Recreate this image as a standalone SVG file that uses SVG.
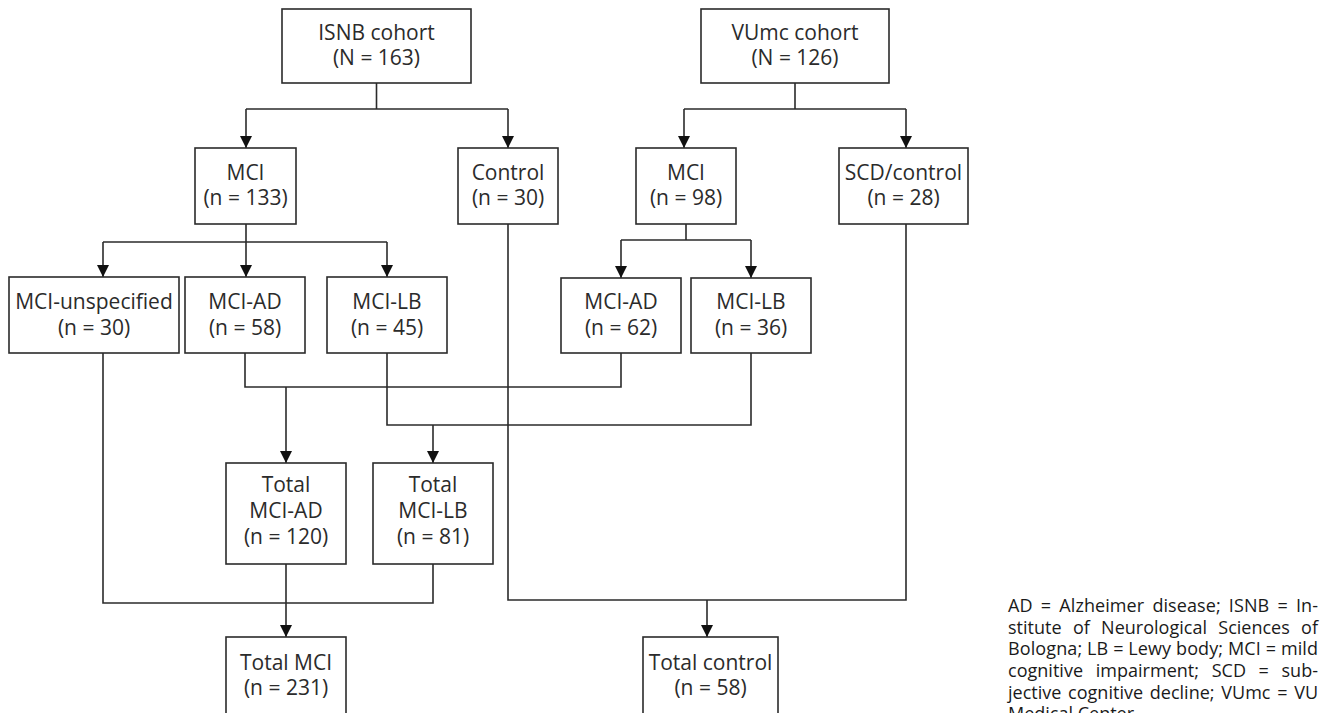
<svg xmlns="http://www.w3.org/2000/svg" width="1336" height="713" viewBox="0 0 1336 713">
<style>
.box{fill:#fff;stroke:#2b2b2b;stroke-width:1.6}
.t{font-family:"Open Sans","Liberation Sans",sans-serif;font-size:21px;fill:#2b2b2b;text-anchor:middle}
.c{fill:none;stroke:#2b2b2b;stroke-width:1.6}
.lg{font-family:"Open Sans","Liberation Sans",sans-serif;font-size:18px;fill:#1a1a1a}
</style>
<defs>
<marker id="ah" markerUnits="userSpaceOnUse" markerWidth="14" markerHeight="14" viewBox="0 0 14 14" refX="12" refY="7" orient="auto">
<path d="M0,1 L12,7 L0,13 Z" fill="#111"/>
</marker>
</defs>
<rect width="1336" height="713" fill="#fff"/>
<g id="connectors">
<path class="c" d="M376.5,83 V109 M246,109 H508"/>
<path class="c" d="M246,109 V148" marker-end="url(#ah)"/>
<path class="c" d="M508,109 V148" marker-end="url(#ah)"/>
<path class="c" d="M795,83 V109 M684,109 H906"/>
<path class="c" d="M684,109 V148" marker-end="url(#ah)"/>
<path class="c" d="M906,109 V148" marker-end="url(#ah)"/>
<path class="c" d="M246,224 V242 M103,242 H387"/>
<path class="c" d="M103,242 V277" marker-end="url(#ah)"/>
<path class="c" d="M246,242 V277" marker-end="url(#ah)"/>
<path class="c" d="M387,242 V277" marker-end="url(#ah)"/>
<path class="c" d="M686,224 V240 M621,240 H751"/>
<path class="c" d="M621,240 V278" marker-end="url(#ah)"/>
<path class="c" d="M751,240 V278" marker-end="url(#ah)"/>
<path class="c" d="M245,353 V387 H621 V353"/>
<path class="c" d="M286,387 V463" marker-end="url(#ah)"/>
<path class="c" d="M387,353 V425 H751 V353"/>
<path class="c" d="M433,425 V463" marker-end="url(#ah)"/>
<path class="c" d="M508,224 V600 H906 V224"/>
<path class="c" d="M707,600 V637" marker-end="url(#ah)"/>
<path class="c" d="M103,353 V603 H433 V564"/>
<path class="c" d="M286,564 V637" marker-end="url(#ah)"/>
</g>
<g id="isnb"><rect class="box" x="282" y="9" width="189" height="74"/><text class="t" x="376.5" y="40">ISNB cohort<tspan x="376.5" dy="25">(N = 163)</tspan></text></g>
<g id="vumc"><rect class="box" x="701" y="9" width="188" height="74"/><text class="t" x="795" y="40">VUmc cohort<tspan x="795" dy="25">(N = 126)</tspan></text></g>
<g id="mci-isnb"><rect class="box" x="195" y="148" width="101" height="76"/><text class="t" x="245.5" y="180">MCI<tspan x="245.5" dy="25">(n = 133)</tspan></text></g>
<g id="control"><rect class="box" x="458" y="148" width="100" height="76"/><text class="t" x="508" y="180">Control<tspan x="508" dy="25">(n = 30)</tspan></text></g>
<g id="mci-vumc"><rect class="box" x="636" y="148" width="100" height="76"/><text class="t" x="686" y="180">MCI<tspan x="686" dy="25">(n = 98)</tspan></text></g>
<g id="scd"><rect class="box" x="839" y="148" width="129" height="76"/><text class="t" x="903.5" y="180">SCD/control<tspan x="903.5" dy="25">(n = 28)</tspan></text></g>
<g id="mci-unspec"><rect class="box" x="9" y="277" width="170" height="76"/><text class="t" x="94" y="309">MCI-unspecified<tspan x="94" dy="26">(n = 30)</tspan></text></g>
<g id="mci-ad-isnb"><rect class="box" x="185" y="277" width="120" height="76"/><text class="t" x="245" y="309">MCI-AD<tspan x="245" dy="26">(n = 58)</tspan></text></g>
<g id="mci-lb-isnb"><rect class="box" x="327" y="277" width="120" height="76"/><text class="t" x="387" y="309">MCI-LB<tspan x="387" dy="26">(n = 45)</tspan></text></g>
<g id="mci-ad-vumc"><rect class="box" x="561" y="278" width="120" height="75"/><text class="t" x="621" y="309">MCI-AD<tspan x="621" dy="26">(n = 62)</tspan></text></g>
<g id="mci-lb-vumc"><rect class="box" x="691" y="278" width="120" height="75"/><text class="t" x="751" y="309">MCI-LB<tspan x="751" dy="26">(n = 36)</tspan></text></g>
<g id="total-ad"><rect class="box" x="226" y="463" width="120" height="101"/><text class="t" x="286" y="492">Total<tspan x="286" dy="26">MCI-AD</tspan><tspan x="286" dy="26">(n = 120)</tspan></text></g>
<g id="total-lb"><rect class="box" x="373" y="463" width="120" height="101"/><text class="t" x="433" y="492">Total<tspan x="433" dy="26">MCI-LB</tspan><tspan x="433" dy="26">(n = 81)</tspan></text></g>
<g id="total-mci"><rect class="box" x="226" y="637" width="120" height="90"/><text class="t" x="286" y="670">Total MCI<tspan x="286" dy="25">(n = 231)</tspan></text></g>
<g id="total-control"><rect class="box" x="643" y="637" width="135" height="90"/><text class="t" x="710.5" y="670">Total control<tspan x="710.5" dy="25">(n = 58)</tspan></text></g>
<g id="legend">
<text class="lg" x="1008" y="612" word-spacing="3.4" textLength="310" lengthAdjust="spacing">AD = Alzheimer disease; ISNB = In-</text>
<text class="lg" x="1008" y="633.5" word-spacing="6.6" textLength="310" lengthAdjust="spacing">stitute of Neurological Sciences of</text>
<text class="lg" x="1008" y="655" textLength="310" lengthAdjust="spacing">Bologna; LB = Lewy body; MCI = mild</text>
<text class="lg" x="1008" y="677" word-spacing="7.9" textLength="310" lengthAdjust="spacing">cognitive impairment; SCD = sub-</text>
<text class="lg" x="1008" y="698.5" word-spacing="2" textLength="310" lengthAdjust="spacing">jective cognitive decline; VUmc = VU</text>
<text class="lg" x="1008" y="720">Medical Center.</text>
</g>
</svg>
